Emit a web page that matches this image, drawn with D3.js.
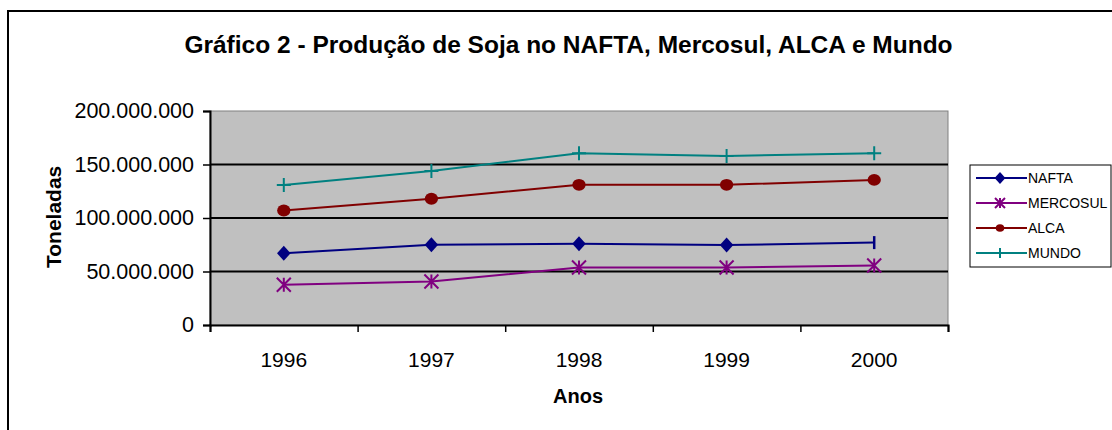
<!DOCTYPE html>
<html>
<head>
<meta charset="utf-8">
<script src="https://cdn.jsdelivr.net/npm/d3@7"></script>
<style>
  body { margin: 0; background: #fff; }
  text { font-family: Arial, "Liberation Sans", sans-serif; }
</style>
</head>
<body>
<script>
// data
var anos = ["1996", "1997", "1998", "1999", "2000"]
var nafta = [67000000, 75000000, 76000000, 74700000, 77000000]
var mercosul = [37600000, 40700000, 53800000, 53800000, 55600000]
var alca = [107000000, 118000000, 131000000, 131000000, 135600000]
var mundo = [130900000, 144000000, 160500000, 158000000, 160500000]
var yTicks = [0, 50000000, 100000000, 150000000, 200000000]

var series = [
  { name: "NAFTA", values: nafta, color: "#000080", marker: "diamond" },
  { name: "MERCOSUL", values: mercosul, color: "#800080", marker: "star" },
  { name: "ALCA", values: alca, color: "#800000", marker: "circle" },
  { name: "MUNDO", values: mundo, color: "#008080", marker: "plus" }
]

var svg = d3.select("body")
  .append("svg")
  .attr("width", 1112)
  .attr("height", 430)

// outer chart border
svg.append("rect")
  .attr("x", 8).attr("y", 11)
  .attr("width", 1120).attr("height", 440)
  .attr("fill", "#fff")
  .attr("stroke", "#000")
  .attr("stroke-width", 2)

// plot area edges (window.top is reserved, so use other names)
var pLeft = 210, pRight = 948, pTop = 111, pBottom = 325

// x: category boundaries on a linear index scale
var x = d3.scaleLinear().domain([0, anos.length]).range([pLeft, pRight])
var y = d3.scaleLinear().domain([0, 200000000]).range([pBottom, pTop])

// plot background
svg.append("rect")
  .attr("x", pLeft).attr("y", pTop)
  .attr("width", pRight - pLeft).attr("height", pBottom - pTop)
  .attr("fill", "#c0c0c0")
  .attr("stroke", "#808080")
  .attr("stroke-width", 1)

// gridlines
svg.selectAll(".grid")
  .data(yTicks.filter(function (d) { return d > 0 && d < 200000000 }))
  .enter()
  .append("line")
  .attr("x1", pLeft).attr("x2", pRight)
  .attr("y1", function (d) { return y(d) })
  .attr("y2", function (d) { return y(d) })
  .attr("stroke", "#000")
  .attr("stroke-width", 2)

// y axis
var fmt = function (d) { return d3.format(",")(d).replace(/,/g, ".") }
var yAxis = svg.append("g")
  .attr("transform", "translate(" + pLeft + ",0)")
  .call(d3.axisLeft(y).tickValues(yTicks).tickFormat(fmt).tickSize(7).tickPadding(9))
yAxis.select(".domain").attr("stroke", "#000").attr("stroke-width", 2)
yAxis.selectAll(".tick line").attr("stroke", "#000").attr("stroke-width", 1.5)
yAxis.selectAll("text")
  .attr("font-size", 21.5).attr("fill", "#000")
  .attr("font-family", "Arial, 'Liberation Sans', sans-serif")

// x axis (ticks between categories)
var xAxis = svg.append("g")
  .attr("transform", "translate(0," + pBottom + ")")
  .call(d3.axisBottom(x).tickValues(d3.range(anos.length + 1)).tickFormat("").tickSize(7))
xAxis.select(".domain").attr("stroke", "#000").attr("stroke-width", 2)
xAxis.selectAll(".tick line").attr("stroke", "#000").attr("stroke-width", 1.5)

svg.selectAll(".xlab")
  .data(anos)
  .enter()
  .append("text")
  .attr("x", function (d, i) { return x(i + 0.5) })
  .attr("y", 366.5)
  .attr("text-anchor", "middle")
  .attr("font-size", 21)
  .text(function (d) { return d })

var cx = function (i) { return x(i + 0.5) }

function drawMarker(g, type, px, py, s, color) {
  if (type === "diamond") {
    g.append("path")
      .attr("d", "M" + px + "," + (py - s) + "L" + (px + s * 0.9) + "," + py + "L" + px + "," + (py + s) + "L" + (px - s * 0.9) + "," + py + "Z")
      .attr("fill", color)
  } else if (type === "circle") {
    g.append("ellipse")
      .attr("cx", px).attr("cy", py)
      .attr("rx", s * 0.95).attr("ry", s * 0.85)
      .attr("fill", color)
  } else if (type === "plus") {
    g.append("path")
      .attr("d", "M" + (px - s) + "," + py + "H" + (px + s) + "M" + px + "," + (py - s) + "V" + (py + s))
      .attr("stroke", color).attr("stroke-width", 2)
  } else if (type === "star") {
    g.append("path")
      .attr("d", "M" + (px - s) + "," + (py - s) + "L" + (px + s) + "," + (py + s) +
        "M" + (px + s) + "," + (py - s) + "L" + (px - s) + "," + (py + s) +
        "M" + px + "," + (py - s) + "V" + (py + s))
      .attr("stroke", color).attr("stroke-width", 2)
  } else if (type === "bar") {
    g.append("path")
      .attr("d", "M" + px + "," + (py - s) + "V" + (py + s))
      .attr("stroke", color).attr("stroke-width", 2.5)
  }
}

var line = d3.line()
  .x(function (d, i) { return cx(i) })
  .y(function (d) { return y(d) })

series.forEach(function (s) {
  var g = svg.append("g")
  g.append("path")
    .datum(s.values)
    .attr("d", line)
    .attr("fill", "none")
    .attr("stroke", s.color)
    .attr("stroke-width", 2)
  s.values.forEach(function (v, i) {
    var m = s.marker
    // the last NAFTA point shows up as a bar in the picture
    if (s.name === "NAFTA" && i === s.values.length - 1) m = "bar"
    var size = m === "circle" ? 7 : m === "diamond" ? 7.5 : 7
    if (m === "bar") size = 6.5
    drawMarker(g, m, cx(i), y(v), size, s.color)
  })
})

// title
svg.append("text")
  .attr("x", 568.5).attr("y", 53)
  .attr("text-anchor", "middle")
  .attr("font-size", 24.5)
  .attr("font-weight", "bold")
  .text("Gráfico 2 - Produção de Soja no NAFTA, Mercosul, ALCA e Mundo")

// axis titles
svg.append("text")
  .attr("x", 578).attr("y", 403)
  .attr("text-anchor", "middle")
  .attr("font-size", 20)
  .attr("font-weight", "bold")
  .text("Anos")

// the y title is cut off at its end in the picture
svg.append("clipPath").attr("id", "yclip")
  .append("rect").attr("x", 30).attr("y", 163).attr("width", 40).attr("height", 120)

svg.append("g")
  .attr("clip-path", "url(#yclip)")
  .append("text")
  .attr("transform", "translate(61,268) rotate(-90)")
  .attr("font-size", 21)
  .attr("font-weight", "bold")
  .text("Toneladas")

// legend
var lg = svg.append("g")
lg.append("rect")
  .attr("x", 970).attr("y", 165)
  .attr("width", 141).attr("height", 102)
  .attr("fill", "#fff")
  .attr("stroke", "#000")
  .attr("stroke-width", 1)

series.forEach(function (s, i) {
  var ly = 178 + i * 25
  lg.append("line")
    .attr("x1", 976).attr("x2", 1027)
    .attr("y1", ly).attr("y2", ly)
    .attr("stroke", s.color)
    .attr("stroke-width", 2)
  var size = s.marker === "circle" ? 4.5 : s.marker === "diamond" ? 6 : 5
  drawMarker(lg, s.marker, 1000, ly, size, s.color)
  lg.append("text")
    .attr("x", 1028).attr("y", ly + 5)
    .attr("font-size", 14)
    .text(s.name)
})
</script>
</body>
</html>
